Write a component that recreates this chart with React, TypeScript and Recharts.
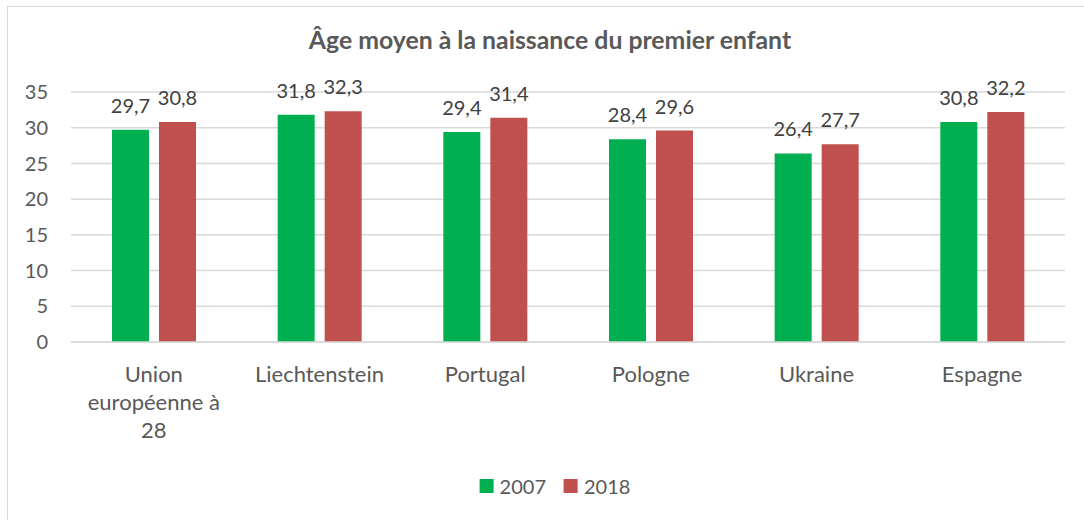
import { BarChart, Bar, XAxis, YAxis, CartesianGrid, LabelList } from "recharts";

const categories = ["Union européenne à 28", "Liechtenstein", "Portugal", "Pologne", "Ukraine", "Espagne"];
const values2007 = [29.7, 31.8, 29.4, 28.4, 26.4, 30.8];
const values2018 = [30.8, 32.3, 31.4, 29.6, 27.7, 32.2];
const yTicks = [0, 5, 10, 15, 20, 25, 30, 35];
const seriesNames = ["2007", "2018"];
const seriesColors = ["#00B050", "#C0504D"];
const title = "Âge moyen à la naissance du premier enfant";

const data = categories.map((name, i) => ({
  name,
  v2007: values2007[i],
  v2018: values2018[i],
}));

const FONT = "Lato, 'Open Sans', sans-serif";

// break a label into lines of at most maxChars characters
function wrap(text: string, maxChars = 13): string[] {
  const lines: string[] = [];
  let cur = "";
  for (const w of text.split(" ")) {
    const next = cur ? cur + " " + w : w;
    if (next.length > maxChars && cur) {
      lines.push(cur);
      cur = w;
    } else {
      cur = next;
    }
  }
  if (cur) lines.push(cur);
  return lines;
}

function CategoryTick(props: any) {
  const { x, y, payload } = props;
  const lines = wrap(String(payload.value));
  return (
    <text x={x} y={y} textAnchor="middle" fill="#595959" fontSize={22} fontFamily={FONT}>
      {lines.map((l, i) => (
        <tspan key={i} x={x} y={y + 40 + i * 28}>
          {l}
        </tspan>
      ))}
    </text>
  );
}

const fmt = (v: any) => String(v).replace(".", ",");

export default function App() {
  return (
    <div
      style={{
        position: "absolute",
        left: 0,
        top: 0,
        width: 1084,
        height: 520,
        background: "#fff",
        overflow: "hidden",
        fontFamily: FONT,
      }}
    >
      <div
        style={{
          position: "absolute",
          left: 7,
          top: 6,
          width: 1100,
          height: 540,
          border: "1px solid #d9d9d9",
        }}
      />
      <div
        style={{
          position: "absolute",
          left: 550,
          top: 25,
          transform: "translateX(-50%)",
          whiteSpace: "nowrap",
          fontSize: 24.8,
          fontWeight: 700,
          color: "#595959",
        }}
      >
        {title}
      </div>
      <div style={{ position: "absolute", left: 0, top: 0 }}>
        <BarChart
          width={1084}
          height={520}
          data={data}
          margin={{ top: 92, right: 19, left: 21, bottom: 78 }}
          barSize={37}
          barGap={10}
        >
          <CartesianGrid horizontal vertical={false} stroke="#d9d9d9" strokeWidth={1.5} />
          <YAxis
            width={50}
            domain={[0, 35]}
            ticks={yTicks}
            axisLine={false}
            tickLine={false}
            tickSize={0}
            tickMargin={23}
            tick={{ fill: "#595959", fontSize: 20, fontFamily: FONT }}
          />
          <XAxis
            dataKey="name"
            height={100}
            axisLine={{ stroke: "#d9d9d9", strokeWidth: 1.5 }}
            tickLine={false}
            tickSize={0}
            tickMargin={0}
            interval={0}
            tick={<CategoryTick />}
          />
          <Bar dataKey="v2007" name={seriesNames[0]} fill={seriesColors[0]} isAnimationActive={false}>
            <LabelList dataKey="v2007" position="top" offset={17} formatter={fmt} fill="#404040" fontSize={20} fontFamily={FONT} />
          </Bar>
          <Bar dataKey="v2018" name={seriesNames[1]} fill={seriesColors[1]} isAnimationActive={false}>
            <LabelList dataKey="v2018" position="top" offset={17} formatter={fmt} fill="#404040" fontSize={20} fontFamily={FONT} />
          </Bar>
        </BarChart>
      </div>
      <div
        style={{
          position: "absolute",
          top: 474,
          left: 555,
          transform: "translateX(-50%)",
          display: "flex",
          alignItems: "center",
          fontSize: 20,
          color: "#595959",
          whiteSpace: "nowrap",
        }}
      >
        {seriesNames.map((s, i) => (
          <div key={s} style={{ display: "flex", alignItems: "center", marginRight: i === 0 ? 18 : 0 }}>
            <span style={{ width: 14, height: 14, background: seriesColors[i], display: "inline-block", marginRight: 6 }} />
            <span>{s}</span>
          </div>
        ))}
      </div>
    </div>
  );
}
